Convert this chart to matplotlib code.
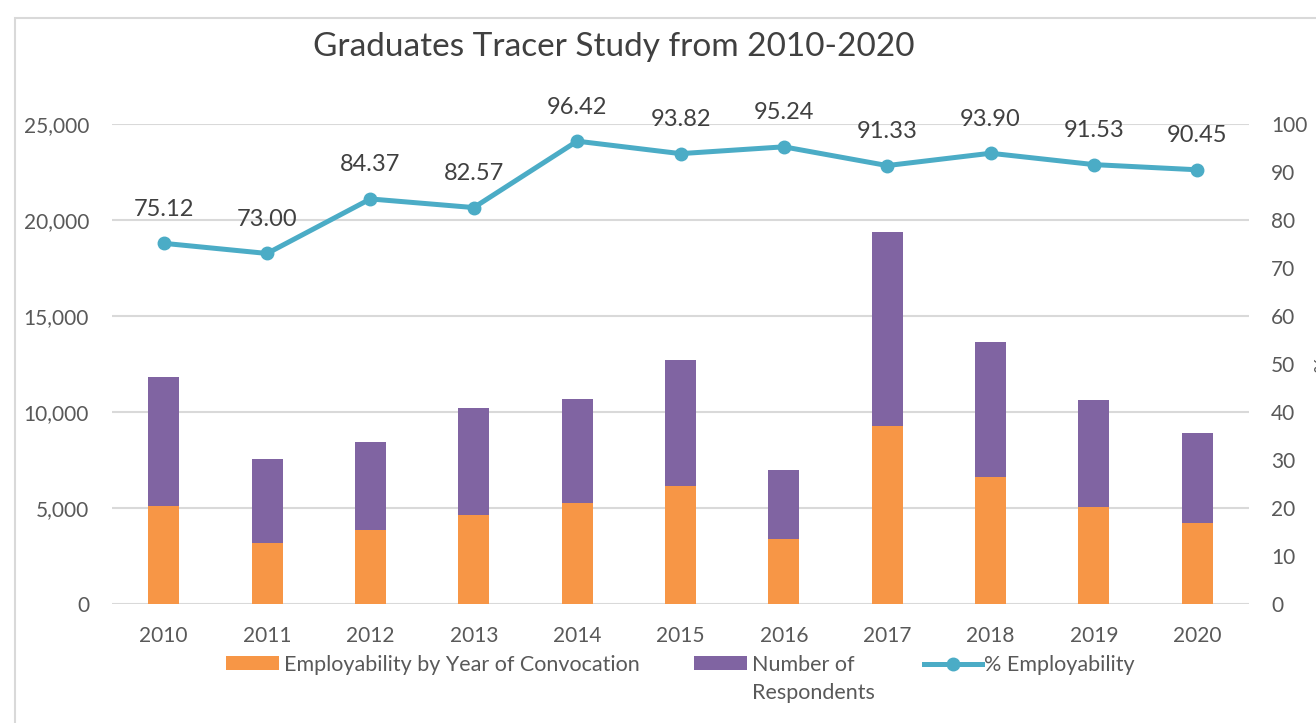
import matplotlib.pyplot as plt
from matplotlib.patches import Rectangle

years = ['2010', '2011', '2012', '2013', '2014', '2015', '2016', '2017', '2018', '2019', '2020']
employed = [5070, 3180, 3840, 4620, 5240, 6130, 3370, 9250, 6580, 5050, 4210]
respondents = [6750, 4350, 4570, 5560, 5440, 6560, 3570, 10140, 7050, 5550, 4680]
pct = [75.12, 73.00, 84.37, 82.57, 96.42, 93.82, 95.24, 91.33, 93.90, 91.53, 90.45]

orange = '#F79646'
purple = '#8064A2'
teal = '#4BACC6'
grey = '#595959'

plt.rcParams['font.family'] = ['Lato', 'DejaVu Sans']

fig = plt.figure(figsize=(13.16, 7.23), dpi=100)
ax = fig.add_axes([112 / 1316, 1 - 603.5 / 723, (1249 - 112) / 1316, (603.5 - 124) / 723])

x = list(range(len(years)))
b1 = ax.bar(x, employed, width=0.3, color=orange, zorder=2)
b2 = ax.bar(x, respondents, width=0.3, bottom=employed, color=purple, zorder=2)

ax.set_xlim(-0.5, len(years) - 0.5)
ax.set_ylim(0, 25000)
ax.set_yticks(range(0, 25001, 5000))
ax.set_yticklabels(['{:,}'.format(v) for v in range(0, 25001, 5000)])
ax.set_xticks(x)
ax.set_xticklabels(years)
ax.yaxis.grid(True, color='#d9d9d9', lw=1.5, zorder=0)
ax.set_axisbelow(True)
for s in ax.spines.values():
    s.set_visible(False)
ax.tick_params(length=0, labelsize=15, colors=grey, pad=16.5)
ax.tick_params(axis='x', pad=16)

ax2 = ax.twinx()
ln, = ax2.plot(x, pct, color=teal, lw=3.6, marker='o', ms=9, zorder=3)
ax2.set_ylim(0, 100)
ax2.set_yticks(range(0, 101, 10))
for s in ax2.spines.values():
    s.set_visible(False)
ax2.tick_params(length=0, labelsize=15, colors=grey, pad=16)
for xi, p in zip(x, pct):
    ax2.annotate('{:.2f}'.format(p), (xi, p), xytext=(0, 24.5), textcoords='offset points',
                 ha='center', va='center', fontsize=17, color='#404040')

fig.text(614 / 1316, 1 - 47 / 723, 'Graduates Tracer Study from 2010-2020',
         ha='center', va='center', fontsize=24, color='#404040')

fig.text(1309 / 1316, 1 - 365 / 723, '%', rotation=-90, ha='left', va='center',
         fontsize=14, color=grey)

# legend, one entry at a time so the spacing follows the reference
leg_y = 1 - 665 / 723
entries = [(b1, 'Employability by Year of Convocation', 226),
           (b2, 'Number of', 694),
           (ln, '% Employability', 924)]
for h, lab, px in entries:
    is_line = h is ln
    fig.legend(handles=[h], labels=[lab], loc='center left',
               bbox_to_anchor=(px / 1316, leg_y), frameon=False, fontsize=15.5,
               labelcolor=grey, handlelength=2.7 if is_line else 2.45,
               handleheight=0.62, handletextpad=0.25 if not is_line else 0.1,
               borderpad=0, borderaxespad=0)
fig.text(752 / 1316, 1 - 693 / 723, 'Respondents', ha='left', va='center',
         fontsize=15.5, color=grey)

fig.patches.append(Rectangle((15 / 1316, -0.1), 1.2, 1 - 18 / 723 + 0.1, transform=fig.transFigure,
                             fill=False, edgecolor='#d9d9d9', lw=1.5))

fig.savefig('out.png', dpi=100)
